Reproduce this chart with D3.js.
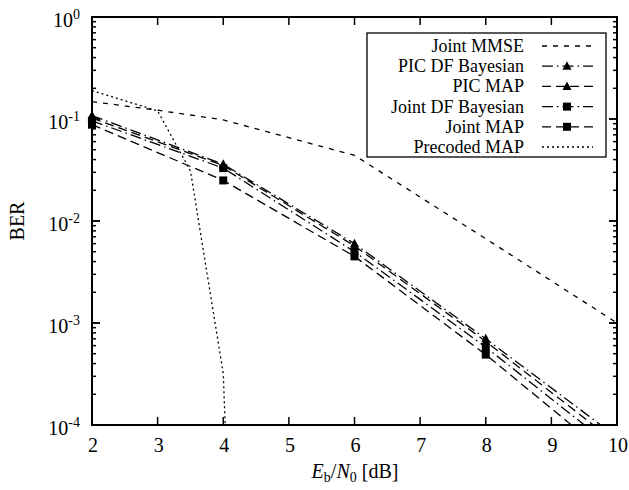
<!DOCTYPE html>
<html>
<head>
<meta charset="utf-8">
<script src="https://cdn.jsdelivr.net/npm/d3@7"></script>
<style>
  html, body { margin: 0; padding: 0; background: #fff; }
  svg { display: block; }
</style>
</head>
<body>
<svg id="chart" width="629" height="490"></svg>
<script>
// SNR points (dB)
const ebn0 = [2, 4, 6, 8, 10];

// BER curves
const jointMMSE   = [[2, 0.148], [3, 0.122], [4, 0.098], [6, 0.044], [8, 0.0067], [10, 0.001]];
const picDF       = [[2, 0.108], [4, 0.036], [6, 0.0060], [8, 0.00070], [10, 0.000076]];
const picMAP      = [[2, 0.102], [4, 0.035], [6, 0.0057], [8, 0.00066], [10, 0.000066]];
const jointDF     = [[2, 0.096], [4, 0.033], [6, 0.0050], [8, 0.00058], [10, 0.000056]];
const jointMAP    = [[2, 0.088], [4, 0.025], [6, 0.0045], [8, 0.00049], [10, 0.000043]];
const precodedMAP = [[2, 0.19], [3, 0.12], [3.5, 0.031], [4, 0.00032], [4.5, 1e-12]];

const xTicks = [2, 3, 4, 5, 6, 7, 8, 9, 10];
const yDecades = [1e-4, 1e-3, 1e-2, 1e-1, 1];
const yExponents = ["-4", "-3", "-2", "-1", "0"];

const seriesNames = ["Joint MMSE", "PIC DF Bayesian", "PIC MAP", "Joint DF Bayesian", "Joint MAP", "Precoded MAP"];
const seriesData = [jointMMSE, picDF, picMAP, jointDF, jointMAP, precodedMAP];
const seriesDash = ["5,6", "11,4,1.5,4", "9,5", "11,4,1.5,4", "9,5", "2,3"];
const seriesMarker = [null, "triangle", "triangle", "square", "square", null];

const FONT = "'Liberation Serif', 'Times New Roman', Times, serif";
const FS = 20, FS_SMALL = 14, FS_LEGEND = 18;

const svg = d3.select("#chart")
  .attr("font-family", FONT);
const L = 92, R = 617, T = 17, B = 425;

const x = d3.scaleLinear().domain([2, 10]).range([L, R]);
const y = d3.scaleLog().domain([1e-4, 1]).range([B, T]);

svg.append("defs").append("clipPath").attr("id", "plotClip")
  .append("rect").attr("x", L).attr("y", T).attr("width", R - L).attr("height", B - T);

// Minor/major ticks (inward, mirrored)
const tickG = svg.append("g").attr("stroke", "#000").attr("stroke-width", 1.5);
xTicks.forEach(v => {
  tickG.append("line").attr("x1", x(v)).attr("x2", x(v)).attr("y1", B).attr("y2", B - 8);
  tickG.append("line").attr("x1", x(v)).attr("x2", x(v)).attr("y1", T).attr("y2", T + 8);
});
for (let e = -4; e < 0; e++) {
  for (let m = 1; m <= 10; m++) {
    const v = m * Math.pow(10, e);
    const len = (m === 1 || m === 10) ? 8 : 4;
    tickG.append("line").attr("x1", L).attr("x2", L + len).attr("y1", y(v)).attr("y2", y(v));
    tickG.append("line").attr("x1", R).attr("x2", R - len).attr("y1", y(v)).attr("y2", y(v));
  }
}

// Tick labels
xTicks.forEach(v => {
  svg.append("text").attr("x", x(v) + 1).attr("y", B + 27)
    .attr("text-anchor", "middle").attr("font-size", FS).attr("font-family", FONT).text(v);
});
yDecades.forEach((v, i) => {
  const t = svg.append("text").attr("x", 80).attr("y", y(v) + 10)
    .attr("text-anchor", "end").attr("font-size", FS).attr("font-family", FONT);
  t.append("tspan").text("10");
  t.append("tspan").attr("dy", -8).attr("font-size", FS_SMALL).text(yExponents[i]);
});

// Axis titles
const xt = svg.append("text").attr("x", 355).attr("y", 478)
  .attr("text-anchor", "middle").attr("font-size", FS).attr("font-family", FONT);
xt.append("tspan").attr("font-style", "italic").text("E");
xt.append("tspan").attr("dy", 4).attr("font-size", FS_SMALL).text("b");
xt.append("tspan").attr("dy", -4).text("/");
xt.append("tspan").attr("font-style", "italic").text("N");
xt.append("tspan").attr("dy", 4).attr("font-size", FS_SMALL).text("0");
xt.append("tspan").attr("dy", -4).text(" [dB]");

svg.append("text").attr("transform", "translate(24," + ((T + B) / 2) + ") rotate(-90)")
  .attr("text-anchor", "middle").attr("font-size", FS).attr("font-family", FONT).text("BER");

// Curves
const line = d3.line().x(d => x(d[0])).y(d => y(d[1]));
const plot = svg.append("g").attr("clip-path", "url(#plotClip)");
seriesData.forEach((data, i) => {
  plot.append("path").datum(data)
    .attr("d", line).attr("fill", "none").attr("stroke", "#000")
    .attr("stroke-width", 1.3).attr("stroke-dasharray", seriesDash[i]);
});

function marker(g, kind, cx, cy) {
  if (kind === "triangle") {
    g.append("path").attr("d", `M${cx},${cy - 5}L${cx + 4.5},${cy + 3.5}L${cx - 4.5},${cy + 3.5}Z`).attr("fill", "#000");
  } else if (kind === "square") {
    g.append("rect").attr("x", cx - 4).attr("y", cy - 4).attr("width", 8).attr("height", 8).attr("fill", "#000");
  }
}
const markG = svg.append("g");
seriesData.forEach((data, i) => {
  if (!seriesMarker[i]) return;
  data.filter(d => d[1] >= 1e-4 && ebn0.includes(d[0]))
    .forEach(d => marker(markG, seriesMarker[i], x(d[0]), y(d[1])));
});

// Frame
svg.append("rect").attr("x", L).attr("y", T).attr("width", R - L).attr("height", B - T)
  .attr("fill", "none").attr("stroke", "#000").attr("stroke-width", 2);

// Legend
const lg = svg.append("g");
lg.append("rect").attr("x", 367).attr("y", 33).attr("width", 239).attr("height", 124)
  .attr("fill", "#fff").attr("stroke", "#000").attr("stroke-width", 1.3);
seriesNames.forEach((name, i) => {
  const cy = 46 + i * 20.2;
  lg.append("text").attr("x", 524).attr("y", cy + 6).attr("text-anchor", "end")
    .attr("font-size", FS_LEGEND).attr("font-family", FONT).text(name);
  lg.append("line").attr("x1", 542).attr("x2", 593).attr("y1", cy).attr("y2", cy)
    .attr("stroke", "#000").attr("stroke-width", 1.3).attr("stroke-dasharray", seriesDash[i]);
  if (seriesMarker[i]) marker(lg, seriesMarker[i], 567, cy);
});
</script>
</body>
</html>
